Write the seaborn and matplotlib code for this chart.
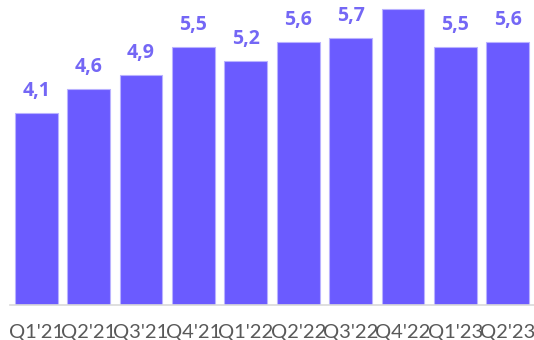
import matplotlib
matplotlib.use("Agg")
import matplotlib.pyplot as plt
import seaborn as sns

# data
quarters = ["Q1'21", "Q2'21", "Q3'21", "Q4'21", "Q1'22",
            "Q2'22", "Q3'22", "Q4'22", "Q1'23", "Q2'23"]
values = [4.1, 4.6, 4.9, 5.5, 5.2, 5.6, 5.7, 6.3, 5.5, 5.6]

BAR = "#6B5BFF"
LABEL = "#7467F5"
YMAX = 6.5

sns.set_theme(style="white")
plt.rcParams["font.family"] = ["Lato", "DejaVu Sans"]

fig = plt.figure(figsize=(5.34, 3.4), dpi=100)
ax = fig.add_axes([10 / 534, 35 / 340, 524 / 534, 305 / 340])

sns.barplot(x=quarters, y=values, color=BAR, saturation=1, width=0.82,
            edgecolor="#B9B2FF", linewidth=0.8, ax=ax)

# value labels; the tallest bar's label falls outside the picture in the original
for i, v in enumerate(values):
    if v > YMAX - 0.4:
        continue
    ax.annotate(f"{v:.1f}".replace(".", ","), (i, v), xytext=(0, 8.5),
                textcoords="offset points", ha="center", va="bottom",
                fontsize=14, fontweight="bold", color=LABEL,
                family=["Open Sans", "DejaVu Sans"])

ax.set_xlim(-0.5, 9.5)
ax.set_ylim(0, YMAX)
ax.set_yticks([])
ax.set_ylabel("")
for s in ("top", "right", "left"):
    ax.spines[s].set_visible(False)
ax.spines["bottom"].set_color("#D9D9D9")
ax.spines["bottom"].set_linewidth(1.2)
ax.tick_params(axis="x", length=0, pad=14, labelsize=14.5, labelcolor="#595959")

fig.savefig("out.png", dpi=100)
